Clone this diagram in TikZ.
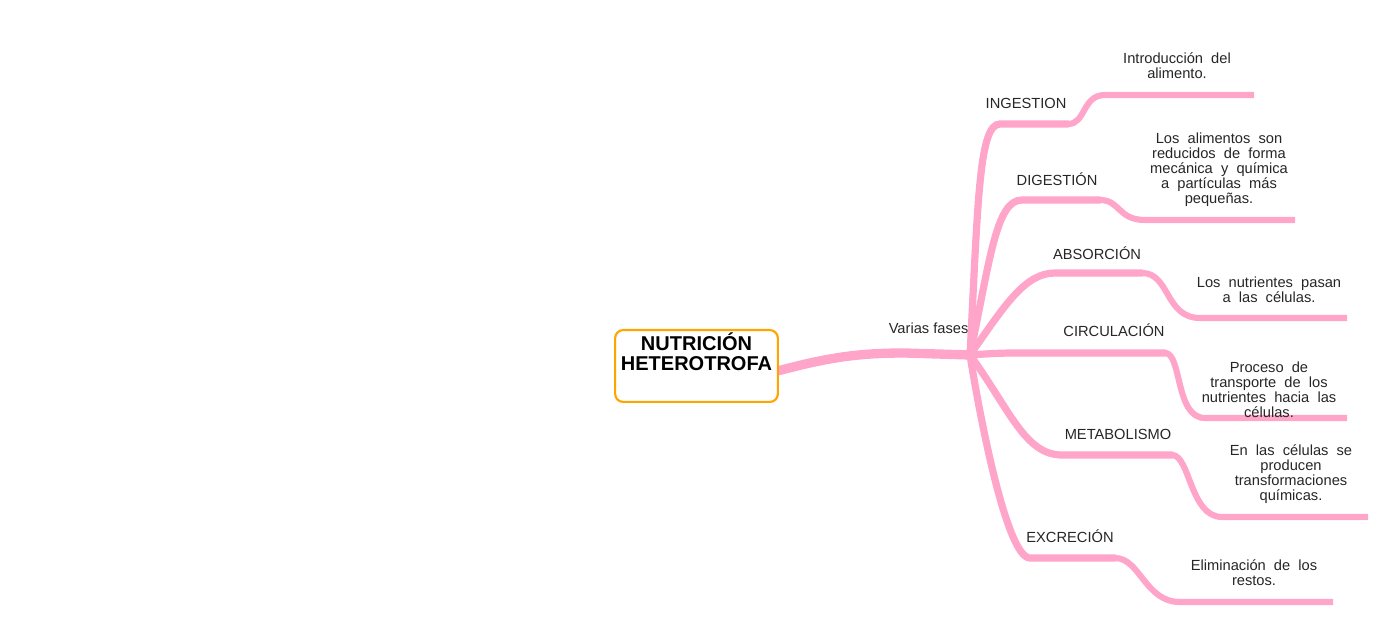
\documentclass[tikz,border=0pt]{standalone}
\usepackage{fontspec}
\setmainfont{Liberation Sans}
\newfontfamily\descfont[WordSpace=2]{Liberation Sans}
\usepackage{tikz}
\usetikzlibrary{positioning,backgrounds}
\definecolor{branchpink}{HTML}{FFA5CA}
\definecolor{rootorange}{HTML}{FFA500}
\definecolor{ink}{HTML}{262626}
\tikzset{
    rootbox/.style={draw=rootorange,fill=white,line width=1.6pt,rounded corners=6pt,
      minimum width=122pt,inner xsep=2pt,inner ysep=1.8pt,text depth=22pt,
      font=\fontsize{15}{15}\selectfont\bfseries,align=center},
    trunk/.style={draw=branchpink,line width=7pt,line cap=round},
    stem/.style={draw=branchpink,line width=5.4pt,line cap=round},
    twig/.style={draw=branchpink,line width=4.6pt},
    phase/.style={text=ink,inner sep=0pt,font=\fontsize{11}{11}\selectfont},
    detail/.style={text=ink,inner sep=0pt,align=center,
      font=\descfont\fontsize{11}{11.25}\selectfont}
}
\begin{document}
\begin{tikzpicture}[x=0.75pt,y=-0.75pt]
  \useasboundingbox (0,0) rectangle (1394,630);
  % tronco
  \coordinate (hub) at (970,355);
  \node[rootbox,anchor=north] (root) at (696.5,329) {NUTRICIÓN\\HETEROTROFA};
  \begin{scope}[on background layer]
    \draw[trunk] ([yshift=-3.5pt]root.east) .. controls (830,357) and (860,353) .. (905,353) -- (hub);
  \end{scope}
  \node[phase,above left=16pt and 1pt of hub] (fases) {Varias fases};
  % ramas
  \draw[stem] (hub) .. controls (978,200) and (979,124) .. (1000,124) -- (1068,124) coordinate (ingA);
  \draw[twig] (ingA) .. controls (1086,124) and (1082,95) .. (1105,95) -- (1254,95) coordinate (ingB);
  \draw[stem] (hub) .. controls (990,260) and (996,200) .. (1022,200) -- (1100,200) coordinate (digA);
  \draw[twig] (digA) .. controls (1120,200) and (1118,220) .. (1145,220) -- (1295,220) coordinate (digB);
  \draw[stem] (hub) .. controls (1005,305) and (1025,273) .. (1055,273) -- (1142,273) coordinate (absA);
  \draw[twig] (absA) .. controls (1170,273) and (1165,318) .. (1200,318) -- (1347,318) coordinate (absB);
  \draw[stem] (hub) .. controls (1000,353) .. (1030,353) -- (1165,353) coordinate (cirA);
  \draw[twig] (cirA) .. controls (1182,353) and (1175,418) .. (1205,418) -- (1347,418) coordinate (cirB);
  \draw[stem] (hub) .. controls (1010,410) and (1025,455) .. (1062,455) -- (1172,455) coordinate (metA);
  \draw[twig] (metA) .. controls (1190,455) and (1190,517) .. (1222,517) -- (1368,517) coordinate (metB);
  \draw[stem] (hub) .. controls (982,430) and (1008,558) .. (1030,558) -- (1115,558) coordinate (excA);
  \draw[twig] (excA) .. controls (1140,558) and (1145,602) .. (1180,602) -- (1333,602) coordinate (excB);
  % fases
  \node[phase] (ing) at (1026,103) {INGESTION};
  \node[phase] (dig) at (1057,179) {DIGESTIÓN};
  \node[phase] (abs) at (1097,253) {ABSORCIÓN};
  \node[phase] (cir) at (1114,330) {CIRCULACIÓN};
  \node[phase] (met) at (1118,434) {METABOLISMO};
  \node[phase] (exc) at (1070,536) {EXCRECIÓN};
  % descripciones
  \node[detail] (ingT) at (1177,66) {Introducción del\\alimento.};
  \node[detail] (digT) at (1219,170) {Los alimentos son\\reducidos de forma\\mecánica y química\\a partículas más\\pequeñas.};
  \node[detail] (absT) at (1269,290) {Los nutrientes pasan\\a las células.};
  \node[detail] (cirT) at (1269,390) {Proceso de\\transporte de los\\nutrientes hacia las\\células.};
  \node[detail] (metT) at (1291,474) {En las células se\\producen\\transformaciones\\químicas.};
  \node[detail] (excT) at (1254,573) {Eliminación de los\\restos.};
\end{tikzpicture}
\end{document}
